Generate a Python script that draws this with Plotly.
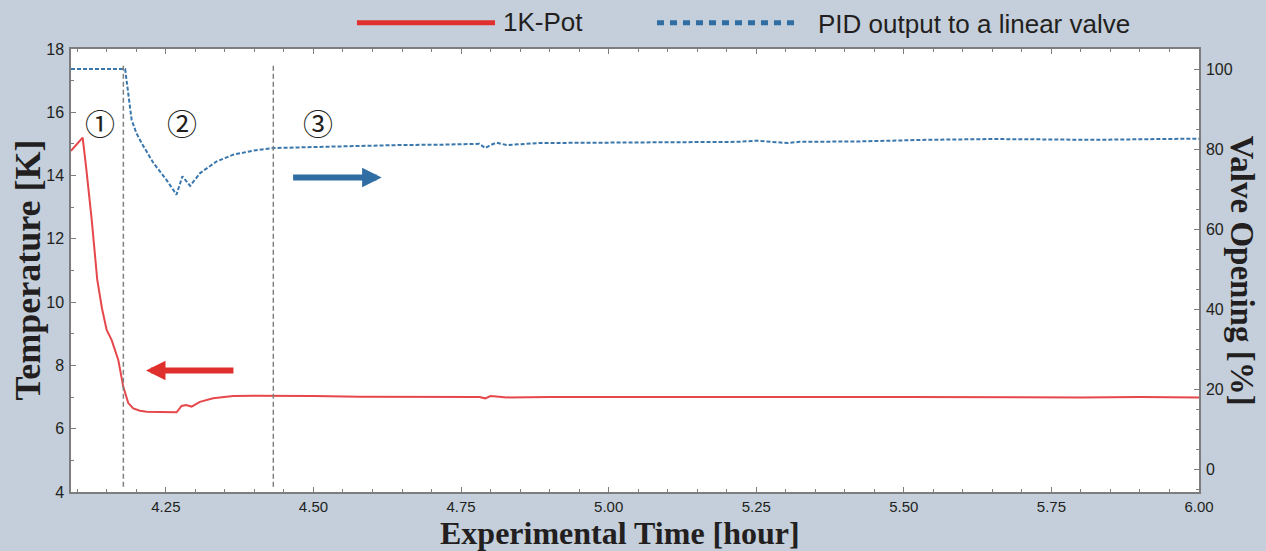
import plotly.graph_objects as go

# ---- data ----
# 1K-Pot temperature [K]
pot_time = [4.0893, 4.100, 4.109, 4.1147, 4.1244, 4.1338, 4.1418, 4.1497, 4.1582, 4.1694,
            4.1778, 4.1863, 4.1948, 4.2060, 4.2174, 4.2400, 4.2682, 4.2766, 4.2839, 4.2936,
            4.3076, 4.3301, 4.3640, 4.4000, 4.4316, 4.5000, 4.5780, 4.6500, 4.7200, 4.7810,
            4.7910, 4.8000, 4.8100, 4.8270, 4.9000, 5.0000, 5.1000, 5.2000, 5.3000, 5.3100,
            5.4000, 5.5000, 5.6000, 5.7000, 5.8000, 5.9000, 6.0000]
pot_temp = [14.78, 15.02, 15.20, 14.30, 12.60, 10.70, 9.80, 9.12, 8.80, 8.17,
            7.33, 6.81, 6.64, 6.57, 6.54, 6.53, 6.52, 6.72, 6.75, 6.70,
            6.85, 6.96, 7.03, 7.04, 7.04, 7.03, 7.01, 7.01, 7.00, 7.00,
            6.96, 7.03, 7.02, 6.99, 7.00, 7.01, 7.00, 7.00, 7.01, 6.99,
            7.00, 7.00, 6.99, 7.00, 6.99, 7.00, 6.99]

# PID output to a linear valve [%]
valve_time = [4.0893, 4.1810, 4.1840, 4.1880, 4.1920, 4.2000, 4.2100, 4.2290, 4.2510, 4.2680,
              4.2780, 4.2910, 4.3080, 4.3360, 4.3640, 4.3980, 4.4320, 4.4990, 4.5780, 4.6460,
              4.7200, 4.7810, 4.7910, 4.8000, 4.8100, 4.8270, 4.8830, 4.9960, 5.1080, 5.1650,
              5.2210, 5.2500, 5.3030, 5.3230, 5.4240, 5.5370, 5.6490, 5.7500, 5.8190, 5.9320,
              6.0000]
valve_pct = [100.0, 100.0, 96.5, 91.5, 87.3, 84.0, 81.2, 76.5, 72.3, 68.6,
             73.2, 70.8, 74.0, 76.9, 78.6, 79.6, 80.25, 80.5, 80.8, 81.0,
             81.1, 81.3, 80.25, 81.0, 81.6, 81.0, 81.5, 81.65, 81.65, 81.8,
             81.8, 82.1, 81.5, 81.8, 81.9, 82.3, 82.5, 82.4, 82.3, 82.5,
             82.6]

phase_bounds = [4.178, 4.432]
phase_labels = ["\u2460", "\u2461", "\u2462"]
phase_label_x = [4.138, 4.277, 4.507]
phase_label_y = [15.70, 15.70, 15.70]

time_ticks = [4.25, 4.50, 4.75, 5.00, 5.25, 5.50, 5.75, 6.00]
time_ticktext = ["4.25", "4.50", "4.75", "5.00", "5.25", "5.50", "5.75", "6.00"]
temp_ticks = [4, 6, 8, 10, 12, 14, 16, 18]
valve_ticks = [0, 20, 40, 60, 80, 100]

series_names = ["1K-Pot", "PID output to a linear valve"]

RED = "#e6474a"
BLUE = "#3a77ad"
AX = "#7d7d7d"
TXT = "#231f20"
BG = "#c4cfdb"

fig = go.Figure()
fig.add_trace(go.Scatter(x=pot_time, y=pot_temp, mode="lines", name=series_names[0],
                         line=dict(color=RED, width=2), yaxis="y", showlegend=False))
fig.add_trace(go.Scatter(x=valve_time, y=valve_pct, mode="lines", name=series_names[1],
                         line=dict(color=BLUE, width=2, dash="4px,2px"), yaxis="y2",
                         showlegend=False))

for b in phase_bounds:
    fig.add_shape(type="line", xref="x", yref="paper", x0=b, x1=b, y0=0.012, y1=0.968,
                  line=dict(color="#808080", width=1.5, dash="5px,3px"), layer="above")

annotations = []
for lab, lx, ly in zip(phase_labels, phase_label_x, phase_label_y):
    annotations.append(dict(x=lx, y=ly, xref="x", yref="y", text=lab, showarrow=False,
                            font=dict(family="Noto Sans CJK JP, DejaVu Sans", size=30, color=TXT)))

# direction arrows
annotations.append(dict(x=4.6155, y=13.94, ax=4.463, ay=13.94, xref="x", yref="y",
                        axref="x", ayref="y", text="", showarrow=True, arrowhead=2,
                        arrowsize=0.65, arrowwidth=6, arrowcolor="#2f6da3"))
annotations.append(dict(x=4.2163, y=7.84, ax=4.367, ay=7.84, xref="x", yref="y",
                        axref="x", ayref="y", text="", showarrow=True, arrowhead=2,
                        arrowsize=0.65, arrowwidth=6, arrowcolor="#e0302d"))

# axis titles
serif = "Liberation Serif, Times New Roman, serif"
annotations.append(dict(x=-0.039, y=0.5, xref="paper", yref="paper", text="<b>Temperature [K]</b>",
                        textangle=-90, showarrow=False,
                        font=dict(family=serif, size=36, color=TXT),
                        xanchor="center", yanchor="middle"))
annotations.append(dict(x=1.039, y=0.5, xref="paper", yref="paper", text="<b>Valve Opening [%]</b>",
                        textangle=90, showarrow=False,
                        font=dict(family=serif, size=33, color=TXT),
                        xanchor="center", yanchor="middle"))
annotations.append(dict(x=0.4867, y=-0.092, xref="paper", yref="paper",
                        text="<b>Experimental Time [hour]</b>", showarrow=False,
                        font=dict(family=serif, size=32, color=TXT),
                        xanchor="center", yanchor="middle"))

# manual legend
leg_y = 1.059
fig.add_shape(type="line", xref="paper", yref="paper", x0=0.2535, x1=0.3759, y0=leg_y, y1=leg_y,
              line=dict(color="#e0302d", width=5))
fig.add_shape(type="line", xref="paper", yref="paper", x0=0.5195, x1=0.6463, y0=leg_y, y1=leg_y,
              line=dict(color="#2f6da3", width=5, dash="7px,6px"))
leg_font = dict(family="Liberation Sans, Arial, sans-serif", size=26, color=TXT)
annotations.append(dict(x=0.381, y=leg_y + 0.003, xref="paper", yref="paper", text=series_names[0],
                        showarrow=False, xanchor="left", yanchor="middle", font=leg_font))
annotations.append(dict(x=0.6605, y=leg_y - 0.003, xref="paper", yref="paper", text=series_names[1],
                        showarrow=False, xanchor="left", yanchor="middle", font=leg_font))

fig.update_layout(
    width=1266, height=551,
    paper_bgcolor=BG, plot_bgcolor="white",
    margin=dict(l=71, r=67, t=49, b=59),
    showlegend=False,
    annotations=annotations,
    xaxis=dict(range=[4.0893, 6.0], tickvals=time_ticks, ticktext=time_ticktext,
               ticks="inside", ticklen=5, tickwidth=1.2, tickcolor=AX,
               showline=True, linecolor=AX, linewidth=1.5, mirror="ticks",
               showgrid=False, zeroline=False,
               tickfont=dict(family="Liberation Sans, Arial", size=15, color=TXT),
               minor=dict(tick0=4.0, dtick=0.05, ticks="inside", ticklen=3, tickwidth=1,
                          tickcolor=AX, showgrid=False)),
    yaxis=dict(range=[4, 18], tickvals=temp_ticks, ticks="inside", ticklen=5, tickwidth=1.2,
               tickcolor=AX, showline=True, linecolor=AX, linewidth=1.5, mirror=False,
               showgrid=False, zeroline=False, ticklabelstandoff=2,
               tickfont=dict(family="Liberation Sans, Arial", size=16, color=TXT),
               minor=dict(tick0=0, dtick=1, ticks="inside", ticklen=3, tickwidth=1,
                          tickcolor=AX, showgrid=False)),
    yaxis2=dict(range=[-5.7, 105], tickvals=valve_ticks, overlaying="y", side="right",
                ticks="inside", ticklen=5, tickwidth=1.2, tickcolor=AX,
                showline=True, linecolor=AX, linewidth=1.5,
                showgrid=False, zeroline=False, ticklabelstandoff=2,
                tickfont=dict(family="Liberation Sans, Arial", size=16, color=TXT),
                minor=dict(tick0=0, dtick=5, ticks="inside", ticklen=3, tickwidth=1,
                           tickcolor=AX, showgrid=False)),
)

fig.write_html("out.html", config={"displayModeBar": False},
               post_script="document.body.style.margin='0';document.body.style.padding='0';")
